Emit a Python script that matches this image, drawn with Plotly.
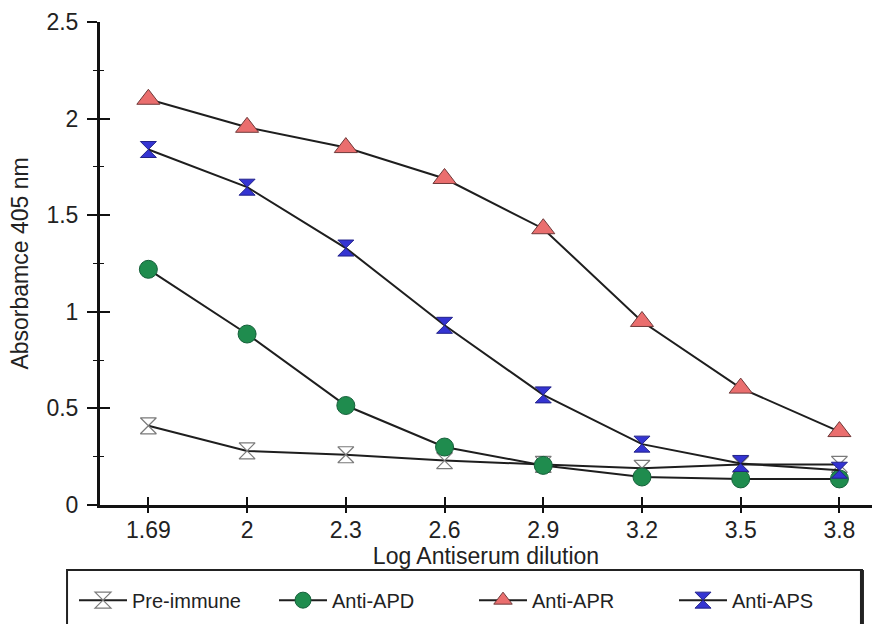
import plotly.graph_objects as go

# Log antiserum dilution (category labels on the x axis)
dilutions = ["1.69", "2", "2.3", "2.6", "2.9", "3.2", "3.5", "3.8"]

# Absorbance at 405 nm for each serum
pre_immune = [0.41, 0.28, 0.26, 0.23, 0.21, 0.19, 0.21, 0.21]
anti_apd = [1.22, 0.885, 0.515, 0.30, 0.205, 0.145, 0.135, 0.135]
anti_apr = [2.10, 1.955, 1.85, 1.69, 1.43, 0.95, 0.605, 0.38]
anti_aps = [1.84, 1.645, 1.33, 0.93, 0.57, 0.315, 0.215, 0.18]

y_ticks = [0, 0.5, 1, 1.5, 2, 2.5]
y_tick_text = ["0", "0.5", "1", "1.5", "2", "2.5"]

FONT = "Liberation Sans, Arial, sans-serif"
LINE = "#1e1e1e"

fig = go.Figure()

series = [
    ("Pre-immune", pre_immune, dict(symbol="hourglass", size=16, color="white",
                                    line=dict(color="#7a7a7a", width=1.2))),
    ("Anti-APD", anti_apd, dict(symbol="circle", size=18, color="#1f8c4e",
                                line=dict(color="#15603a", width=1))),
    ("Anti-APR", anti_apr, dict(symbol="triangle-up", size=20, color="#ea6e6e",
                                line=dict(color="#6e3a3a", width=1))),
    ("Anti-APS", anti_aps, dict(symbol="hourglass", size=16, color="#3434d2",
                                line=dict(color="#22228a", width=1))),
]

for name, vals, marker in series:
    fig.add_trace(go.Scatter(
        x=dilutions, y=vals, name=name, mode="lines+markers",
        line=dict(color=LINE, width=2), marker=marker,
    ))

# Invisible companion traces so the overlay axes (tick marks) render
fig.add_trace(go.Scatter(
    x=dilutions, y=pre_immune, xaxis="x2", yaxis="y2", mode="markers",
    marker=dict(opacity=0), showlegend=False, hoverinfo="skip",
))
fig.add_trace(go.Scatter(
    x=dilutions, y=pre_immune, xaxis="x3", yaxis="y2", mode="markers",
    marker=dict(opacity=0), showlegend=False, hoverinfo="skip",
))

x_range = [-0.49, 7.33]
y_range = [0, 2.5]

tick_font = dict(family=FONT, size=23, color="#222")
title_font = dict(family=FONT, size=23, color="#222")

fig.update_layout(
    width=874, height=624,
    margin=dict(l=100, r=2, t=22, b=119),
    paper_bgcolor="white", plot_bgcolor="white",
    font=dict(family=FONT, color="#222"),
    # main x axis carries the labels; its tick marks come from the overlays
    xaxis=dict(
        type="category", categoryarray=dilutions, range=x_range,
        showline=True, linecolor="#111", linewidth=3, showgrid=False, zeroline=False,
        ticks="", tickfont=tick_font, ticklabelstandoff=2,
        title=dict(text="Log Antiserum dilution", font=title_font, standoff=0),
    ),
    yaxis=dict(
        range=y_range, tickvals=y_ticks, ticktext=y_tick_text,
        showline=True, linecolor="#111", linewidth=3, showgrid=False, zeroline=False,
        ticks="outside", ticklen=10, tickwidth=1.5, tickcolor="#111",
        tickfont=tick_font, ticklabelstandoff=4,
        minor=dict(dtick=0.25, ticks="outside", ticklen=4, tickwidth=1.2, tickcolor="#111"),
        title=dict(text="Absorbamce 405 nm", font=title_font, standoff=12),
    ),
    xaxis2=dict(
        type="category", categoryarray=dilutions, range=x_range, overlaying="x",
        showline=False, showgrid=False, zeroline=False, showticklabels=False,
        ticks="inside", ticklen=8, tickwidth=1.5, tickcolor="#111",
    ),
    xaxis3=dict(
        type="category", categoryarray=dilutions, range=x_range, overlaying="x",
        showline=False, showgrid=False, zeroline=False, showticklabels=False,
        ticks="outside", ticklen=7, tickwidth=1.5, tickcolor="#111",
    ),
    yaxis2=dict(
        range=y_range, tickvals=y_ticks, overlaying="y",
        showline=False, showgrid=False, zeroline=False, showticklabels=False,
        ticks="inside", ticklen=10, tickwidth=1.5, tickcolor="#111",
        minor=dict(dtick=0.25, ticks="inside", ticklen=4, tickwidth=1.2, tickcolor="#111"),
    ),
    legend=dict(
        orientation="h", x=-0.011, xanchor="left", y=-0.197, yanchor="middle",
        font=dict(family=FONT, size=20, color="#222"),
        entrywidth=137, entrywidthmode="pixels", itemwidth=48,
        bgcolor="rgba(0,0,0,0)", borderwidth=0, itemsizing="trace",
    ),
    showlegend=True,
)

# Legend frame
fig.add_shape(
    type="rect", xref="paper", yref="paper",
    x0=-0.0427, x1=0.987, y0=-0.1346, y1=-0.30,
    line=dict(color="#222", width=2), fillcolor="rgba(0,0,0,0)", layer="below",
)
fig.add_shape(
    type="line", xref="paper", yref="paper",
    x0=0.987, x1=0.987, y0=-0.1346, y1=-0.30,
    line=dict(color="#222", width=4),
)

fig.write_html("out.html")
